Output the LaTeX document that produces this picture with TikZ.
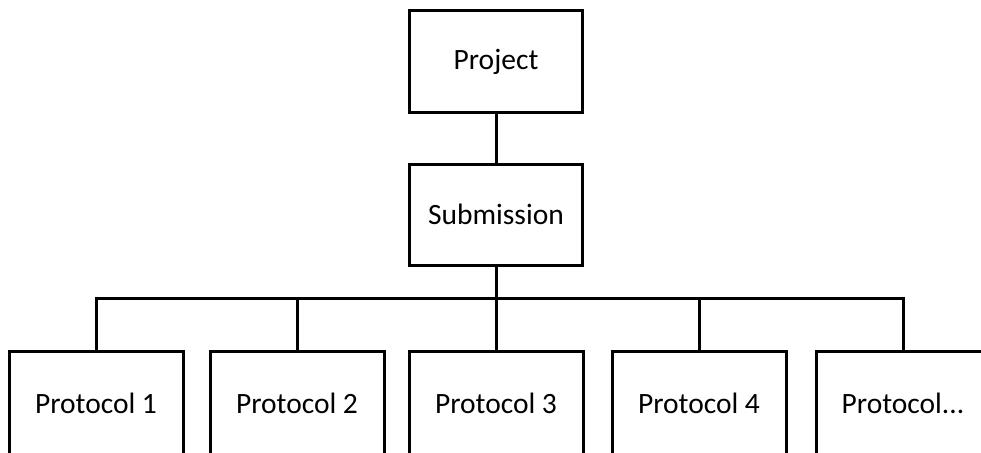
\documentclass[tikz,border=0pt]{standalone}
\usepackage{fontspec}
\setmainfont{Carlito}
\usepackage{tikz}
\usetikzlibrary{positioning, calc}

\begin{document}
\begin{tikzpicture}[x=1pt, y=-1pt, line width=3pt]
	\tikzstyle{topbox}=[rectangle, draw=black, minimum width=173pt, minimum height=101pt, font=\fontsize{29.5}{34}\selectfont]
	\tikzstyle{protbox}=[rectangle, draw=black, minimum width=174pt, minimum height=104pt, font=\fontsize{29.5}{34}\selectfont]
	\useasboundingbox (0,0) rectangle (981,452);
	\clip (0,0) rectangle (981,452);
	
	\node (proj) at (496,61.5) [topbox]{Project};
	\node (sub) at (496,214.5) [topbox]{Submission};
	
	\node (p1) at (96,403) [protbox]{Protocol 1};
	\node (p2) at (297,403) [protbox]{Protocol 2};
	\node (p3) at (496,403) [protbox]{Protocol 3};
	\node (p4) at (699,403) [protbox]{Protocol 4};
	\node (p5) at (903,403) [protbox]{Protocol...};
	
	\coordinate (bus) at (496,298);
	
	\draw (proj) -- (sub);
	\draw (sub) -- (bus);
	\foreach \i in {1,...,5}
		\draw (bus) -| (p\i.north);
\end{tikzpicture}
\end{document}
